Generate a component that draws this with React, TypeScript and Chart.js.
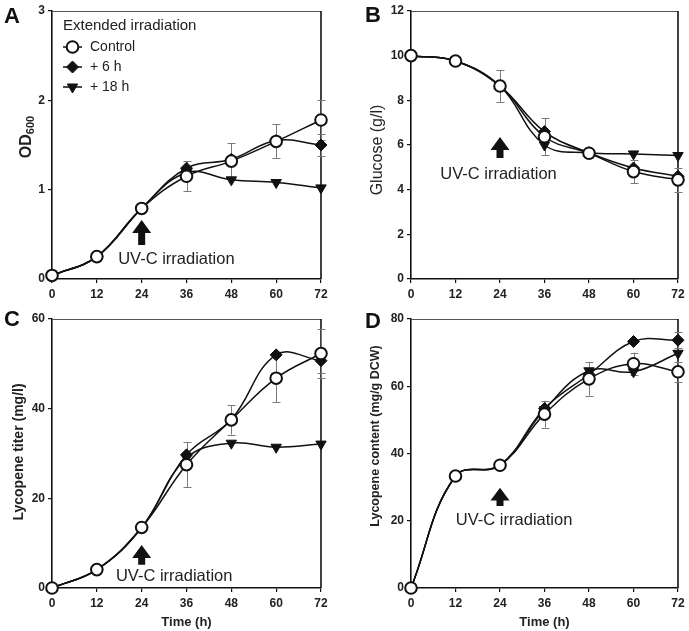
import React, { useEffect, useRef } from "react";
import { Chart, registerables } from "chart.js";

Chart.register(...registerables);

// ---------- data ----------
const hours = [0, 12, 24, 36, 48, 60, 72];
const seriesNames = ["Control", "+ 6 h", "+ 18 h"];
const legendTitle = "Extended irradiation";
const annotationText = "UV-C irradiation";
const xAxisTitle = "Time (h)";

// Panel A: OD600
const odControl = [0.04, 0.25, 0.79, 1.15, 1.32, 1.54, 1.78];
const odPlus6 = [0.04, 0.25, 0.79, 1.24, 1.34, 1.55, 1.5];
const odPlus18 = [0.04, 0.25, 0.79, 1.19, 1.11, 1.08, 1.02];
const odControlErr = [0, 0, 0, 0.17, 0.2, 0.19, 0.22];
const odPlus6Err = [0, 0, 0, 0, 0, 0, 0.12];

// Panel B: glucose (g/l)
const glcControl = [10.0, 9.76, 8.64, 6.37, 5.63, 4.81, 4.44];
const glcPlus6 = [10.0, 9.76, 8.64, 6.6, 5.65, 4.97, 4.6];
const glcPlus18 = [10.0, 9.76, 8.64, 6.0, 5.65, 5.6, 5.53];
const glcControlErr = [0, 0, 0.72, 0.82, 0.2, 0.52, 0.55];

// Panel C: lycopene titer (mg/l)
const titControl = [0, 4.1, 13.5, 27.5, 37.5, 46.8, 52.3];
const titPlus6 = [0, 4.1, 13.5, 29.7, 37.6, 52.0, 50.7];
const titPlus18 = [0, 4.1, 13.5, 29.0, 32.3, 31.4, 32.1];
const titControlErr = [0, 0, 0, 5.0, 3.3, 5.3, 5.5];
const titPlus6Err = [0, 0, 0, 0, 0, 0, 2.8];

// Panel D: lycopene content (mg/g DCW)
const cntControl = [0, 33.3, 36.5, 51.7, 62.2, 66.7, 64.3];
const cntPlus6 = [0, 33.3, 36.5, 53.4, 63.5, 73.3, 73.7];
const cntPlus18 = [0, 33.3, 36.5, 53.0, 64.6, 64.3, 69.8];
const cntControlErr = [0, 0, 0, 4.0, 5.0, 3.3, 3.0];
const cntPlus6Err = [0, 0, 0, 0, 0, 0, 2.3];

// ---------- styling ----------
const FONT = "'Liberation Sans', Arial, Helvetica, sans-serif";
const INK = "#111";
const TEXT = "#222";

type PanelCfg = {
  key: string;
  letter: string;
  pos: { left: number; top: number; width: number; height: number };
  area: { l: number; t: number; r: number; b: number };
  yMax: number;
  yStep: number;
  values: number[][];
  errors: (number[] | null)[];
  yTitle: { text: string; sub?: string; size: number; weight: string; cx: number; cy: number };
  letterAt: { x: number; y: number };
  arrow: { top: number; bottom: number };
  label: { x: number; y: number };
  showLegend: boolean;
  showXTitle: boolean;
};

const panels: PanelCfg[] = [
  {
    key: "A",
    letter: "A",
    pos: { left: 0, top: 0, width: 345, height: 300 },
    area: { l: 52, t: 11, r: 321, b: 279 },
    yMax: 3,
    yStep: 1,
    values: [odControl, odPlus6, odPlus18],
    errors: [odControlErr, odPlus6Err, null],
    yTitle: { text: "OD", sub: "600", size: 16, weight: "bold", cx: 25, cy: 137 },
    letterAt: { x: 4, y: 23 },
    arrow: { top: 0.66, bottom: 0.38 },
    label: { x: 33.3, y: 0.215 },
    showLegend: true,
    showXTitle: false,
  },
  {
    key: "B",
    letter: "B",
    pos: { left: 345, top: 0, width: 344, height: 300 },
    area: { l: 66, t: 11, r: 333, b: 279 },
    yMax: 12,
    yStep: 2,
    values: [glcControl, glcPlus6, glcPlus18],
    errors: [glcControlErr, null, null],
    yTitle: { text: "Glucose (g/l)", size: 16, weight: "normal", cx: 33, cy: 150 },
    letterAt: { x: 20, y: 22 },
    arrow: { top: 6.36, bottom: 5.42 },
    label: { x: 23.6, y: 4.66 },
    showLegend: false,
    showXTitle: false,
  },
  {
    key: "C",
    letter: "C",
    pos: { left: 0, top: 300, width: 345, height: 331 },
    area: { l: 52, t: 19, r: 321, b: 288 },
    yMax: 60,
    yStep: 20,
    values: [titControl, titPlus6, titPlus18],
    errors: [titControlErr, titPlus6Err, null],
    yTitle: { text: "Lycopene titer (mg/l)", size: 14, weight: "bold", cx: 19, cy: 152 },
    letterAt: { x: 4, y: 26 },
    arrow: { top: 9.6, bottom: 5.2 },
    label: { x: 32.7, y: 2.5 },
    showLegend: false,
    showXTitle: true,
  },
  {
    key: "D",
    letter: "D",
    pos: { left: 345, top: 300, width: 344, height: 331 },
    area: { l: 66, t: 19, r: 333, b: 288 },
    yMax: 80,
    yStep: 20,
    values: [cntControl, cntPlus6, cntPlus18],
    errors: [cntControlErr, cntPlus6Err, null],
    yTitle: { text: "Lycopene content (mg/g DCW)", size: 12.5, weight: "bold", cx: 31, cy: 136 },
    letterAt: { x: 20, y: 28 },
    arrow: { top: 29.8, bottom: 24.4 },
    label: { x: 27.8, y: 20.2 },
    showLegend: false,
    showXTitle: true,
  },
];

const markerStyles = [
  { pointStyle: "circle", pointRadius: 5.8, pointBorderWidth: 2, pointBackgroundColor: "#fff", pointBorderColor: INK, pointRotation: 0 },
  { pointStyle: "rectRot", pointRadius: 6, pointBorderWidth: 1, pointBackgroundColor: INK, pointBorderColor: INK, pointRotation: 0 },
  { pointStyle: "triangle", pointRadius: 6, pointBorderWidth: 1, pointBackgroundColor: INK, pointBorderColor: INK, pointRotation: 180 },
];

function drawMarker(ctx: CanvasRenderingContext2D, idx: number, x: number, y: number) {
  const s = markerStyles[idx];
  const r = s.pointRadius;
  ctx.save();
  ctx.lineWidth = s.pointBorderWidth;
  ctx.strokeStyle = s.pointBorderColor;
  ctx.fillStyle = s.pointBackgroundColor;
  ctx.beginPath();
  if (idx === 0) {
    ctx.arc(x, y, r, 0, Math.PI * 2);
  } else if (idx === 1) {
    ctx.moveTo(x, y - r);
    ctx.lineTo(x + r, y);
    ctx.lineTo(x, y + r);
    ctx.lineTo(x - r, y);
    ctx.closePath();
  } else {
    const h = r * Math.sin(Math.PI / 3);
    ctx.moveTo(x, y + r);
    ctx.lineTo(x + h, y - r / 2);
    ctx.lineTo(x - h, y - r / 2);
    ctx.closePath();
  }
  ctx.fill();
  ctx.stroke();
  ctx.restore();
}

function makeDecor(cfg: PanelCfg) {
  return {
    id: "decor" + cfg.key,
    beforeDatasetsDraw(chart: any) {
      const { ctx, chartArea: a, scales } = chart;
      const xs = scales.x;
      const ys = scales.y;
      ctx.save();
      // frame (top & right)
      ctx.strokeStyle = "#555";
      ctx.lineWidth = 1;
      ctx.beginPath();
      ctx.moveTo(a.left, a.top + 0.5);
      ctx.lineTo(a.right, a.top + 0.5);
      ctx.stroke();
      ctx.strokeStyle = INK;
      ctx.lineWidth = 1.6;
      ctx.beginPath();
      ctx.moveTo(a.right, a.top);
      ctx.lineTo(a.right, a.bottom);
      ctx.stroke();
      // error bars
      ctx.strokeStyle = "#7a7a7a";
      ctx.lineWidth = 1;
      cfg.errors.forEach((err, si) => {
        if (!err) return;
        const vals = cfg.values[si];
        err.forEach((e, i) => {
          if (!e) return;
          const px = Math.round(xs.getPixelForValue(hours[i])) + 0.5;
          const y1 = ys.getPixelForValue(vals[i] + e);
          const y2 = ys.getPixelForValue(vals[i] - e);
          ctx.beginPath();
          ctx.moveTo(px, y1);
          ctx.lineTo(px, y2);
          ctx.moveTo(px - 4, Math.round(y1) + 0.5);
          ctx.lineTo(px + 4, Math.round(y1) + 0.5);
          ctx.moveTo(px - 4, Math.round(y2) + 0.5);
          ctx.lineTo(px + 4, Math.round(y2) + 0.5);
          ctx.stroke();
        });
      });
      ctx.restore();
    },
    afterDraw(chart: any) {
      const { ctx, chartArea: a, scales } = chart;
      const xs = scales.x;
      const ys = scales.y;
      ctx.save();
      ctx.fillStyle = INK;
      // panel letter
      ctx.font = `bold 22px ${FONT}`;
      ctx.textAlign = "left";
      ctx.textBaseline = "alphabetic";
      ctx.fillText(cfg.letter, cfg.letterAt.x, cfg.letterAt.y);

      // y title
      const yt = cfg.yTitle;
      ctx.save();
      ctx.translate(yt.cx, yt.cy);
      ctx.rotate(-Math.PI / 2);
      ctx.fillStyle = TEXT;
      if (yt.sub) {
        const mainFont = `${yt.weight} ${yt.size}px ${FONT}`;
        const subSize = Math.round(yt.size * 0.69);
        const subFont = `${yt.weight} ${subSize}px ${FONT}`;
        ctx.font = mainFont;
        const w1 = ctx.measureText(yt.text).width;
        ctx.font = subFont;
        const w2 = ctx.measureText(yt.sub).width;
        const start = -(w1 + w2) / 2;
        ctx.textAlign = "left";
        ctx.textBaseline = "alphabetic";
        ctx.font = mainFont;
        ctx.fillText(yt.text, start, yt.size * 0.36);
        ctx.font = subFont;
        ctx.fillText(yt.sub, start + w1, yt.size * 0.36 + 3);
      } else {
        ctx.font = `${yt.weight} ${yt.size}px ${FONT}`;
        ctx.textAlign = "center";
        ctx.textBaseline = "middle";
        ctx.fillText(yt.text, 0, 0);
      }
      ctx.restore();

      // x title
      if (cfg.showXTitle) {
        ctx.fillStyle = TEXT;
        ctx.font = `bold 13px ${FONT}`;
        ctx.textAlign = "center";
        ctx.textBaseline = "middle";
        ctx.fillText(xAxisTitle, (a.left + a.right) / 2, a.bottom + 34);
      }

      // arrow
      const ax = xs.getPixelForValue(24);
      const top = ys.getPixelForValue(cfg.arrow.top);
      const bottom = ys.getPixelForValue(cfg.arrow.bottom);
      const total = bottom - top;
      const headH = Math.min(13, total * 0.7);
      ctx.fillStyle = INK;
      ctx.beginPath();
      ctx.moveTo(ax, top);
      ctx.lineTo(ax + 9.5, top + headH);
      ctx.lineTo(ax + 3.5, top + headH);
      ctx.lineTo(ax + 3.5, bottom);
      ctx.lineTo(ax - 3.5, bottom);
      ctx.lineTo(ax - 3.5, top + headH);
      ctx.lineTo(ax - 9.5, top + headH);
      ctx.closePath();
      ctx.fill();

      // annotation text
      ctx.fillStyle = TEXT;
      ctx.font = `16.5px ${FONT}`;
      ctx.textAlign = "center";
      ctx.textBaseline = "middle";
      ctx.fillText(annotationText, xs.getPixelForValue(cfg.label.x), ys.getPixelForValue(cfg.label.y));

      // legend
      if (cfg.showLegend) {
        ctx.fillStyle = TEXT;
        ctx.textAlign = "left";
        ctx.textBaseline = "middle";
        ctx.font = `15px ${FONT}`;
        ctx.fillText(legendTitle, a.left + 11, a.top + 15);
        ctx.font = `14px ${FONT}`;
        seriesNames.forEach((name, i) => {
          const ly = a.top + 36 + i * 20;
          ctx.strokeStyle = INK;
          ctx.lineWidth = 1.5;
          ctx.beginPath();
          ctx.moveTo(a.left + 11, ly);
          ctx.lineTo(a.left + 30, ly);
          ctx.stroke();
          drawMarker(ctx, i, a.left + 20.5, ly);
          ctx.fillStyle = TEXT;
          ctx.fillText(name, a.left + 38, ly);
        });
      }
      ctx.restore();
    },
  };
}

function PanelChart({ cfg }: { cfg: PanelCfg }) {
  const ref = useRef<HTMLCanvasElement>(null);
  useEffect(() => {
    const canvas = ref.current;
    if (!canvas) return;
    const { width, height } = cfg.pos;
    const tickFont = { family: FONT, size: 12, weight: "bold" as const };
    const chart = new Chart(canvas, {
      type: "line",
      data: {
        datasets: cfg.values.map((vals, i) => ({
          label: seriesNames[i],
          data: hours.map((h, j) => ({ x: h, y: vals[j] })),
          borderColor: INK,
          borderWidth: 1.5,
          tension: 0.4,
          fill: false,
          clip: false as any,
          ...markerStyles[i],
        })) as any,
      },
      options: {
        animation: false,
        responsive: false,
        devicePixelRatio: 1,
        layout: { padding: { left: 0, top: cfg.area.t, right: width - cfg.area.r, bottom: 0 } },
        plugins: { legend: { display: false }, tooltip: { enabled: false } },
        scales: {
          x: {
            type: "linear",
            min: 0,
            max: 72,
            ticks: { stepSize: 12, font: tickFont, color: TEXT, padding: 4, maxRotation: 0 },
            grid: { drawOnChartArea: false, drawTicks: true, tickLength: 4, color: INK, tickColor: INK, lineWidth: 1.2 },
            border: { color: INK, width: 1.6 },
            afterFit: (s: any) => {
              s.height = height - cfg.area.b;
            },
          },
          y: {
            type: "linear",
            min: 0,
            max: cfg.yMax,
            ticks: { stepSize: cfg.yStep, font: tickFont, color: TEXT, padding: 3 },
            grid: { drawOnChartArea: false, drawTicks: true, tickLength: 4, color: INK, tickColor: INK, lineWidth: 1.2 },
            border: { color: INK, width: 1.6 },
            afterFit: (s: any) => {
              s.width = cfg.area.l;
            },
          },
        },
      } as any,
      plugins: [makeDecor(cfg)],
    });
    return () => chart.destroy();
  }, [cfg]);
  const { left, top, width, height } = cfg.pos;
  return (
    <canvas
      ref={ref}
      width={width}
      height={height}
      style={{ position: "absolute", left, top, width, height }}
    />
  );
}

export default function App() {
  return (
    <div style={{ position: "absolute", left: 0, top: 0, width: 689, height: 631, background: "#fff" }}>
      {panels.map((p) => (
        <PanelChart key={p.key} cfg={p} />
      ))}
    </div>
  );
}
